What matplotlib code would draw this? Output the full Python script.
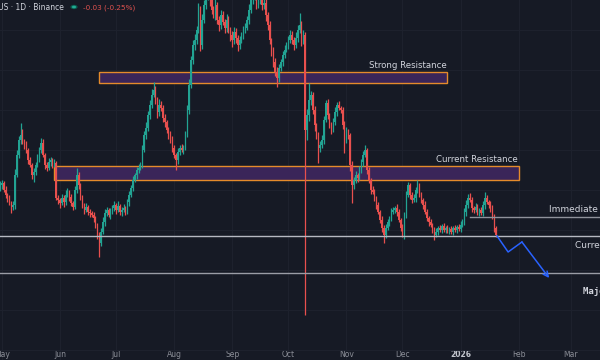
import numpy as np
import pandas as pd
import matplotlib
matplotlib.use('Agg')
import matplotlib.pyplot as plt
import matplotlib.dates as mdates
from matplotlib.patches import Rectangle

# daily candles, Chainlink / TetherUS (open = previous close)
start_date = '2025-04-30'
first_open = 14.6
closes = [
    14.75, 14.85, 14.5, 14.25, 14.1, 13.85, 13.65, 13.75, 15.25, 16.25,
    17.0, 17.25, 16.9, 16.75, 16.5, 16.0, 15.75, 15.25, 15.4, 15.75,
    16.1, 16.5, 16.85, 16.25, 15.75, 15.6, 15.9, 16.0, 15.75, 15.85,
    14.1, 14.0, 13.85, 14.1, 13.9, 14.25, 14.4, 14.15, 13.85, 13.65,
    14.5, 15.25, 14.75, 14.1, 13.75, 13.5, 13.65, 13.4, 13.35, 13.25,
    13.1, 12.75, 12.25, 11.85, 12.4, 12.9, 13.35, 13.5, 13.25, 13.4,
    13.6, 13.75, 13.5, 13.7, 13.4, 13.5, 13.6, 13.4, 13.9, 14.25,
    14.6, 15.0, 15.25, 15.5, 15.6, 15.75, 16.5, 17.25, 17.6, 18.25,
    18.75, 19.25, 19.5, 19.0, 18.4, 18.75, 18.6, 18.1, 17.9, 17.5,
    17.25, 17.1, 16.6, 16.25, 16.0, 16.4, 16.6, 16.5, 16.65, 17.25,
    18.5, 19.75, 21.0, 21.75, 22.0, 22.5, 23.5, 21.75, 23.0, 23.75,
    24.25, 24.5, 24.0, 23.5, 23.25, 23.75, 23.0, 22.75, 23.25, 22.9,
    22.6, 23.0, 22.5, 22.25, 22.0, 22.4, 22.1, 21.75, 22.0, 22.25,
    22.5, 22.6, 23.0, 23.5, 24.0, 24.25, 24.5, 23.75, 24.0, 24.25,
    23.75, 23.85, 23.25, 22.75, 22.0, 21.5, 20.9, 20.4, 20.1, 20.6,
    20.9, 21.25, 21.5, 21.75, 22.0, 22.25, 22.0, 21.75, 22.1, 22.5,
    22.75, 22.0, 22.25, 17.5, 18.25, 19.0, 19.25, 18.5, 17.75, 17.25,
    16.6, 16.75, 17.0, 18.0, 18.85, 18.25, 17.75, 17.5, 17.9, 18.4,
    18.75, 18.6, 18.5, 17.75, 17.0, 17.4, 17.25, 15.75, 14.75, 15.0,
    15.25, 15.1, 15.5, 15.9, 16.25, 16.5, 15.5, 15.0, 14.5, 14.4,
    14.1, 13.75, 13.4, 13.0, 12.6, 12.25, 12.6, 12.9, 13.1, 13.4,
    13.5, 13.6, 13.4, 13.0, 12.6, 12.25, 13.25, 14.25, 14.75, 14.25,
    14.0, 14.1, 14.5, 14.75, 14.25, 14.0, 13.75, 13.4, 13.1, 12.9,
    12.75, 12.5, 12.25, 12.4, 12.6, 12.5, 12.7, 12.5, 12.6, 12.45,
    12.55, 12.4, 12.6, 12.5, 12.65, 12.55, 12.75, 12.9, 13.4, 13.75,
    14.1, 14.0, 13.6, 13.5, 13.65, 13.4, 13.5, 13.35, 13.75, 14.1,
    13.9, 13.75, 13.6, 13.2, 12.6, 12.25,
]
upper_wick = [
    0.2, 0.15, 0.1, 0.2, 0.1, 0.15, 0.1, 0.2, 0.3, 0.25,
    0.2, 0.6, 0.3, 0.15, 0.2, 0.1, 0.15, 0.1, 0.2, 0.15,
    0.2, 0.15, 0.25, 0.2, 0.1, 0.15, 0.2, 0.15, 0.1, 0.2,
    0.1, 0.15, 0.1, 0.2, 0.15, 0.25, 0.2, 0.1, 0.15, 0.1,
    0.2, 0.35, 0.15, 0.1, 0.15, 0.1, 0.2, 0.1, 0.15, 0.1,
    0.15, 0.1, 0.1, 0.15, 0.2, 0.25, 0.2, 0.15, 0.1, 0.2,
    0.15, 0.2, 0.1, 0.25, 0.1, 0.15, 0.2, 0.1, 0.15, 0.2,
    0.15, 0.2, 0.1, 0.15, 0.2, 0.15, 0.25, 0.2, 0.3, 0.2,
    0.25, 0.3, 0.4, 0.2, 0.15, 0.3, 0.2, 0.15, 0.2, 0.1,
    0.15, 0.2, 0.1, 0.15, 0.1, 0.2, 0.15, 0.2, 0.1, 0.2,
    0.25, 0.3, 0.2, 0.25, 0.3, 0.2, 0.35, 0.2, 0.3, 0.25,
    0.3, 0.25, 0.2, 0.3, 0.2, 0.3, 0.15, 0.2, 0.25, 0.2,
    0.15, 0.3, 0.2, 0.15, 0.2, 0.25, 0.2, 0.15, 0.2, 0.15,
    0.2, 0.25, 0.2, 0.3, 0.25, 0.3, 0.25, 0.2, 0.3, 0.25,
    0.2, 0.3, 0.2, 0.15, 0.2, 0.1, 0.15, 0.2, 0.25, 0.2,
    0.15, 0.2, 0.25, 0.15, 0.2, 0.25, 0.2, 0.15, 0.3, 0.25,
    0.6, 0.2, 0.25, 0.15, 0.3, 0.85, 0.2, 0.15, 0.2, 0.1,
    0.15, 0.2, 0.25, 0.2, 0.15, 0.2, 0.1, 0.15, 0.2, 0.25,
    0.15, 0.2, 0.1, 0.15, 0.2, 0.25, 0.15, 0.1, 0.2, 0.15,
    0.2, 0.1, 0.2, 0.15, 0.2, 0.25, 0.1, 0.15, 0.1, 0.2,
    0.15, 0.1, 0.15, 0.1, 0.2, 0.15, 0.2, 0.15, 0.1, 0.2,
    0.15, 0.1, 0.2, 0.15, 0.1, 0.2, 0.15, 0.2, 0.15, 0.1,
    0.15, 0.2, 0.15, 0.25, 0.1, 0.15, 0.1, 0.2, 0.15, 0.1,
    0.15, 0.1, 0.15, 0.2, 0.1, 0.15, 0.1, 0.15, 0.1, 0.15,
    0.1, 0.15, 0.1, 0.15, 0.1, 0.15, 0.2, 0.15, 0.2, 0.25,
    0.2, 0.25, 0.15, 0.1, 0.2, 0.15, 0.1, 0.15, 0.2, 0.3,
    0.15, 0.1, 0.2, 0.15, 0.1, 0.1,
]
lower_wick = [
    0.15, 0.2, 0.1, 0.15, 0.2, 0.1, 0.3, 0.15, 0.2, 0.1,
    0.15, 0.2, 0.1, 0.2, 0.15, 0.2, 0.1, 0.2, 0.35, 0.15,
    0.1, 0.2, 0.15, 0.1, 0.2, 0.15, 0.1, 0.2, 0.15, 0.1,
    0.1, 0.2, 0.25, 0.1, 0.25, 0.15, 0.1, 0.2, 0.15, 0.15,
    0.1, 0.15, 0.2, 0.1, 0.15, 0.2, 0.1, 0.15, 0.2, 0.1,
    0.2, 0.15, 0.2, 0.7, 0.15, 0.1, 0.2, 0.15, 0.1, 0.2,
    0.1, 0.15, 0.2, 0.1, 0.15, 0.2, 0.1, 0.15, 0.1, 0.2,
    0.1, 0.15, 0.1, 0.2, 0.15, 0.1, 0.15, 0.1, 0.2, 0.15,
    0.2, 0.15, 0.1, 0.2, 0.3, 0.2, 0.15, 0.2, 0.25, 0.15,
    0.2, 0.25, 0.2, 0.15, 0.5, 0.2, 0.15, 0.1, 0.2, 0.15,
    0.1, 0.2, 0.15, 0.2, 0.25, 0.2, 0.15, 0.3, 0.2, 0.15,
    0.2, 0.25, 0.3, 0.2, 0.15, 0.25, 0.2, 0.3, 0.2, 0.15,
    0.25, 0.2, 0.15, 0.3, 0.35, 0.2, 0.25, 0.3, 0.2, 0.15,
    0.2, 0.15, 0.1, 0.2, 0.15, 0.2, 0.25, 0.2, 0.15, 0.2,
    0.25, 0.2, 0.3, 0.25, 0.2, 0.3, 0.25, 0.2, 0.45, 0.2,
    0.15, 0.2, 0.15, 0.1, 0.2, 0.15, 0.2, 0.25, 0.15, 0.2,
    0.15, 0.3, 0.2, 9.25, 0.5, 0.3, 0.25, 0.2, 0.3, 0.2,
    0.75, 0.2, 0.15, 0.2, 0.1, 0.2, 0.15, 0.2, 0.1, 0.15,
    0.2, 0.1, 0.15, 0.2, 0.65, 0.15, 0.2, 0.3, 0.9, 0.2,
    0.15, 0.2, 0.1, 0.15, 0.2, 0.1, 0.2, 0.15, 0.2, 0.1,
    0.15, 0.2, 0.1, 0.15, 0.2, 0.4, 0.15, 0.1, 0.2, 0.15,
    0.1, 0.15, 0.2, 0.1, 0.15, 0.1, 0.2, 0.15, 0.1, 0.2,
    0.15, 0.1, 0.2, 0.15, 0.1, 0.15, 0.2, 0.1, 0.15, 0.2,
    0.1, 0.15, 0.25, 0.1, 0.15, 0.1, 0.15, 0.1, 0.15, 0.1,
    0.15, 0.1, 0.15, 0.1, 0.15, 0.1, 0.15, 0.1, 0.15, 0.2,
    0.15, 0.1, 0.2, 0.15, 0.1, 0.15, 0.2, 0.1, 0.15, 0.2,
    0.1, 0.15, 0.2, 0.15, 0.2, 0.1,
]

# drawn zones and levels
zone_names = ['Strong Resistance', 'Current Resistance']
zone_start = ['2025-06-22', '2025-05-29']
zone_end = ['2025-12-25', '2026-02-01']
zone_low = [19.85, 15.0]
zone_high = [20.4, 15.7]

immediate_level = 13.15
immediate_from = '2026-01-06'
current_support = 12.2
major_support = 10.35

proj_dates = ['2026-01-20 12:00', '2026-01-26 10:00', '2026-02-02 19:00', '2026-02-17 08:00']
proj_prices = [12.2, 11.4, 11.9, 10.1]

month_ticks = ['2025-05-01', '2025-06-01', '2025-07-01', '2025-08-01', '2025-09-01',
               '2025-10-01', '2025-11-01', '2025-12-01', '2026-01-01', '2026-02-01',
               '2026-03-01']
month_labels = ['May', 'Jun', 'Jul', 'Aug', 'Sep', 'Oct', 'Nov', 'Dec', '2026', 'Feb', 'Mar']

BG = '#161a25'
UP = '#22a393'
DOWN = '#e8504e'
TXT = '#d1d4dc'

def main():
    closes_a = np.array(closes)
    opens = np.concatenate([[first_open], closes_a[:-1]])
    highs = np.maximum(opens, closes_a) + np.array(upper_wick)
    lows = np.minimum(opens, closes_a) - np.array(lower_wick)
    dates = mdates.date2num(pd.date_range(start_date, periods=len(closes_a), freq='D'))
    up = closes_a >= opens
    colors = np.where(up, UP, DOWN)

    fig = plt.figure(figsize=(6, 3.6), dpi=100, facecolor=BG)
    ax = fig.add_axes([0, 0, 1, 1], facecolor=BG)
    x0 = dates[0]
    ax.set_xlim(x0, x0 + 320.5)
    ax.set_ylim(6.0, 24.0)

    # grid
    ticks = mdates.date2num(pd.to_datetime(month_ticks))
    ax.set_xticks(ticks)
    ax.set_xticklabels(month_labels)
    ax.set_yticks(np.arange(6.5, 24.0, 2.0))
    ax.set_yticklabels([])
    ax.grid(True, color='#1e222e', lw=0.7)
    ax.set_axisbelow(True)
    ax.tick_params(axis='x', direction='in', pad=-7, length=0, labelsize=5.5, colors='#8a8d96')
    ax.tick_params(axis='y', length=0)
    for lbl in ax.get_xticklabels():
        if lbl.get_text() == '2026':
            lbl.set_color('#c3c6ce')
            lbl.set_fontweight('bold')
    for s in ax.spines.values():
        s.set_visible(False)

    # zones
    for name, s, e, lo, hi in zip(zone_names, zone_start, zone_end, zone_low, zone_high):
        xs, xe = mdates.date2num(pd.Timestamp(s)), mdates.date2num(pd.Timestamp(e))
        ax.add_patch(Rectangle((xs, lo), xe - xs, hi - lo, facecolor='#3a2559',
                               edgecolor='#e58b2b', lw=1.0, zorder=1))
        ax.text(xe - 0.3, hi + 0.12, name, ha='right', va='bottom', color=TXT,
                fontsize=6.2, zorder=5)

    # candles
    ax.vlines(dates, lows, highs, colors=colors, lw=0.9, zorder=2)
    ax.bar(dates, np.abs(closes_a - opens) + 0.02, bottom=np.minimum(opens, closes_a),
           width=0.75, color=colors, zorder=3, lw=0)

    # levels
    xi = mdates.date2num(pd.Timestamp(immediate_from))
    ax.plot([xi, x0 + 330], [immediate_level] * 2, color='#8f929b', lw=1.0, zorder=4)
    ax.axhline(current_support, color='#b6b9c2', lw=1.0, zorder=4)
    ax.axhline(major_support, color='#9a9da6', lw=1.0, zorder=4)
    ax.text(x0 + 293.3, immediate_level + 0.35, 'Immediate Support', ha='left', va='center',
            color=TXT, fontsize=6.5, zorder=5)
    ax.text(x0 + 307.2, current_support - 0.45, 'Current Support', ha='left', va='center',
            color=TXT, fontsize=6.5, zorder=5)
    ax.text(x0 + 311.4, major_support - 0.95, 'Major Support', ha='left', va='center',
            color=TXT, fontsize=6.5, fontweight='bold', family='DejaVu Sans Mono', zorder=5)

    # projected path
    px = mdates.date2num(pd.to_datetime(proj_dates))
    ax.plot(px[:-1], proj_prices[:-1], color='#2962ff', lw=1.1, zorder=6)
    ax.annotate('', xy=(px[-1], proj_prices[-1]), xytext=(px[-2], proj_prices[-2]),
                arrowprops=dict(arrowstyle='->', color='#2962ff', lw=1.1,
                                shrinkA=0, shrinkB=0, mutation_scale=9), zorder=6)

    # header
    fig.text(64 / 600, 1 - 7.5 / 360, 'Chainlink / TetherUS \u00b7 1D \u00b7 Binance', ha='right',
             va='center', color=TXT, fontsize=5.5)
    fig.patches.append(plt.Circle((74 / 600, 1 - 7 / 360), 0.006, transform=fig.transFigure,
                                  facecolor='#0b5e50', edgecolor='none'))
    fig.patches.append(plt.Circle((74 / 600, 1 - 7 / 360), 0.0035, transform=fig.transFigure,
                                  facecolor='#22ab94', edgecolor='none'))
    fig.text(83 / 600, 1 - 7.5 / 360, '-0.03 (-0.25%)', ha='left', va='center',
             color='#e0524f', fontsize=5.2)

    fig.savefig('out.png', dpi=100, facecolor=BG)

if __name__ == '__main__':
    main()
